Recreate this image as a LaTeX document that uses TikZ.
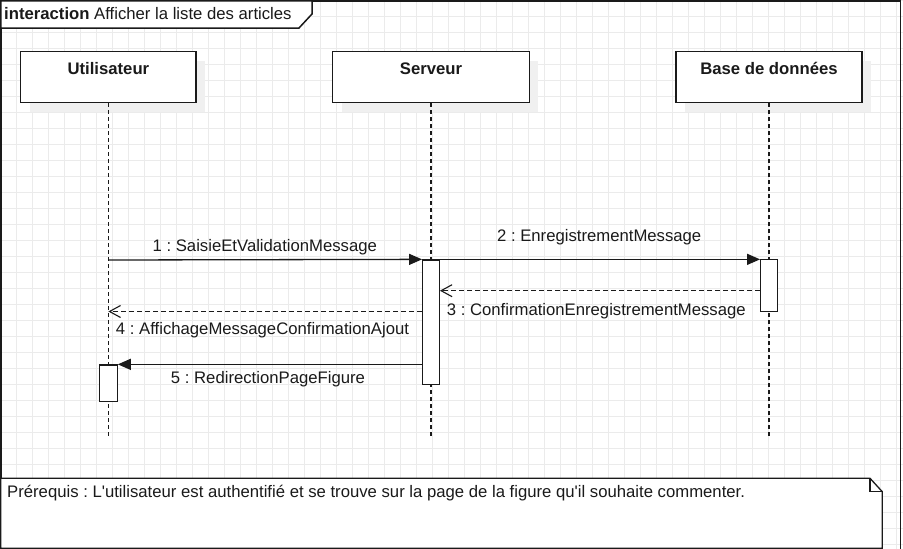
\documentclass[tikz,border=0pt]{standalone}
\usepackage{fontspec}
\setmainfont{Liberation Sans}[Ligatures=TeXOff]
\usetikzlibrary{arrows.meta,calc}
\definecolor{gridc}{HTML}{EBEBEB}
\definecolor{ink}{HTML}{1A1A1A}
\definecolor{shadowc}{HTML}{F0F0F0}
\frenchspacing
\begin{document}
\begin{tikzpicture}[x=1pt,y=-1pt,
  font=\fontsize{16.7}{20}\selectfont,
  every node/.style={text=ink},
  framestyle/.style={draw=ink,line width=1.5pt},
  head/.style={draw=ink,line width=1.4pt,fill=white,inner sep=0pt,minimum height=50.6pt},
  headshadow/.style={fill=shadowc,draw=none},
  headtext/.style={anchor=base,inner sep=0pt,font=\fontsize{16.7}{20}\selectfont\bfseries},
  lifeline/.style={draw=ink,line width=1.3pt,dash pattern=on 4pt off 3pt},
  actbox/.style={draw=ink,line width=1.3pt,fill=white,inner sep=0pt,minimum width=16.6pt},
  syncmsg/.style={draw=ink,line width=1.3pt,-{Triangle[length=13pt,width=11pt]}},
  retmsg/.style={draw=ink,line width=1.1pt,dash pattern=on 5pt off 3pt,-{Straight Barb[length=11pt,width=12pt,line width=1.1pt]}},
  msglabel/.style={anchor=base,inner sep=0pt}
]
\useasboundingbox (0,0) rectangle (903,549);
% grid background
\fill[white] (0,0) rectangle (903,549);
\foreach \gx in {0,16,...,896} \draw[gridc,line width=1pt] (\gx+0.3,0) -- (\gx+0.3,549);
\foreach \gy in {0,16,...,544} \draw[gridc,line width=1pt] (0,\gy+0.3) -- (903,\gy+0.3);

% interaction frame
\draw[framestyle] (0.75,0.75) rectangle (900.5,600);
\draw[framestyle,fill=white] (0.75,0.75) -- (312,0.75) -- (312,14) -- (299,28) -- (0.75,28) -- cycle;
\node[anchor=base west,inner sep=0pt] (title) at (4,19) {\textbf{interaction} Afficher la liste des articles};

% lifeline heads shadows
\fill[headshadow] (30,61) rectangle (205,111.5);
\fill[headshadow] (341.7,61) rectangle (538.3,111.5);
\fill[headshadow] (685,61) rectangle (870.7,111.5);

% lifeline heads
\node[head,minimum width=175.3pt] (hU) at (108.4,77) {};
\node[head,minimum width=196.6pt] (hS) at (431,77) {};
\node[head,minimum width=185.7pt] (hD) at (769,77) {};
\node[headtext] (tU) at (108.4,74) {Utilisateur};
\node[headtext] (tS) at (431,74) {Serveur};
\node[headtext] (tD) at (769,74) {Base de données};

% lifeline ends
\coordinate (eU) at (108.4,436);
\coordinate (eS) at (431,436);
\coordinate (eD) at (769,436);
\draw[lifeline] (hU.south) -- (eU);
\draw[lifeline] (hS.south) -- (eS);
\draw[lifeline] (hD.south) -- (eD);

% activation boxes
\node[actbox,minimum height=124.3pt] (aS) at (431,322.15) {};
\node[actbox,minimum height=52.4pt] (aD) at (769,285.5) {};
\node[actbox,minimum width=17.5pt,minimum height=36.7pt] (aU) at (108.4,383.35) {};

% message coordinates
\coordinate (c1) at (108.4,260);
\coordinate (c3) at (769,290.7);
\coordinate (c4) at (108.4,311.5);

% messages
\draw[syncmsg] (c1) -- (aS.north west);
\draw[syncmsg] (aS.north east) -- (aS.north east -| aD.west);
\draw[retmsg] (aD.west |- c3) -- (aS.east |- c3);
\draw[retmsg] (aS.west |- c4) -- (c4);
\draw[syncmsg] (aS.west |- aU.north) -- (aU.north east);

% message labels
\node[msglabel] (l1) at (264.8,251.7) {1 : SaisieEtValidationMessage};
\node[msglabel] (l2) at (599.2,241.7) {2 : EnregistrementMessage};
\node[msglabel] (l3) at (596.3,315) {3 : ConfirmationEnregistrementMessage};
\node[msglabel] (l4) at (262.5,334.3) {4 : AffichageMessageConfirmationAjout};
\node[msglabel] (l5) at (268,383.3) {5 : RedirectionPageFigure};

% note
\draw[draw=ink,line width=1.3pt,fill=white] (0.75,478.3) -- (870,478.3) -- (882.3,491.7) -- (882.3,548.2) -- (0.75,548.2) -- cycle;
\draw[draw=ink,line width=1.1pt] (870,478.3) -- (870,491.7) -- (882.3,491.7);
\node[anchor=base west,inner sep=0pt] (note) at (7,497.7) {Prérequis : L'utilisateur est authentifié et se trouve sur la page de la figure qu'il souhaite commenter.};
\end{tikzpicture}
\end{document}
